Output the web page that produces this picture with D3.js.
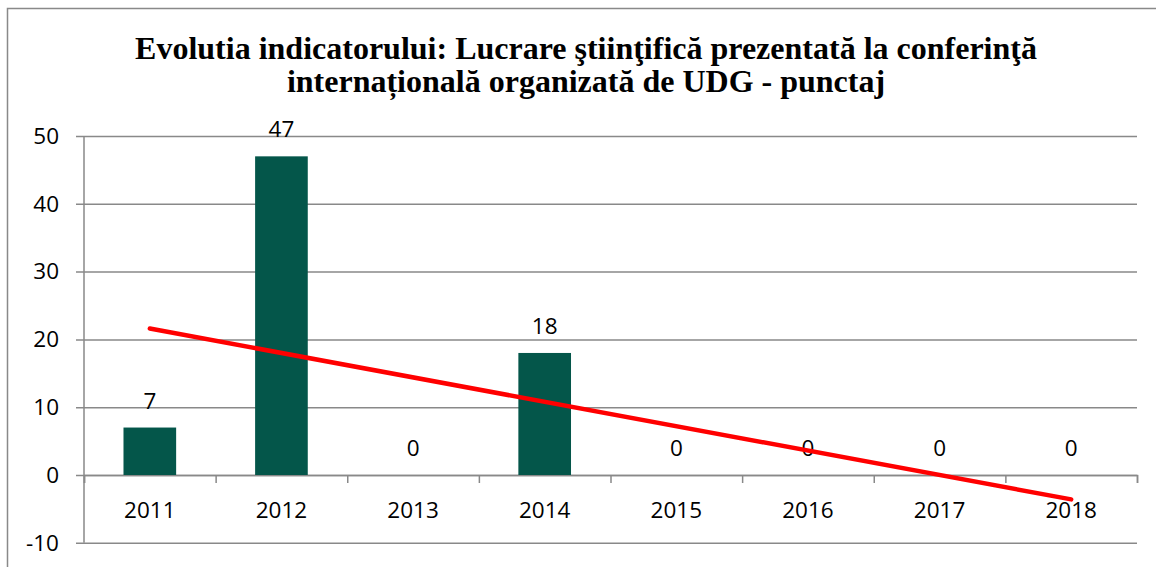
<!DOCTYPE html>
<html>
<head>
<meta charset="utf-8">
<script src="https://cdn.jsdelivr.net/npm/d3@7"></script>
<style>
  body { margin: 0; background: #fff; }
  svg { display: block; }
</style>
</head>
<body>
<script>
// chart data
let years = ["2011", "2012", "2013", "2014", "2015", "2016", "2017", "2018"]
let values = [7, 47, 0, 18, 0, 0, 0, 0]
let yTicks = [-10, 0, 10, 20, 30, 40, 50]
// linear trend line, ends
let trendYears = ["2011", "2018"]
let trendValues = [21.6, -3.6]
let titleLines = [
  "Evolutia indicatorului: Lucrare ştiinţifică prezentată la conferinţă",
  "internațională organizată de UDG - punctaj"
]

let width = 1156, height = 567
let plotLeft = 84, plotRight = 1137, plotTop = 136, plotBottom = 542.8

let svg = d3.select("body")
            .append("svg")
            .attr("width", width)
            .attr("height", height)

// outer chart frame
svg.append("rect")
   .attr("x", 7.5).attr("y", 8.5)
   .attr("width", 1200).attr("height", 600)
   .attr("fill", "none")
   .attr("stroke", "#898989")
   .attr("stroke-width", 1.5)

// title
svg.append("g")
   .selectAll("text")
   .data(titleLines)
   .enter()
   .append("text")
   .attr("x", 586)
   .attr("y", (d, i) => 59 + i * 33)
   .attr("text-anchor", "middle")
   .style("font-family", "'Liberation Serif', 'Times New Roman', serif")
   .style("font-weight", "bold")
   .style("font-size", "32px")
   .text(d => d)

let x = d3.scaleBand()
          .domain(years)
          .range([plotLeft, plotRight])
          .paddingInner(0.6)
          .paddingOuter(0.3)

let y = d3.scaleLinear()
          .domain([-10, 50])
          .range([plotBottom, plotTop])

let font = "'Open Sans', 'Liberation Sans', sans-serif"
let fontSize = "22.5px"
let grey = "#898989"

// gridlines + y ticks
let yAxis = d3.axisLeft(y)
              .tickValues(yTicks)
              .tickSize(-(plotRight - plotLeft + 8))
              .tickFormat("")
let yg = svg.append("g")
            .attr("transform", `translate(${plotLeft - 8},0)`)
            .call(yAxis)
yg.select(".domain").remove()
yg.selectAll(".tick line").attr("stroke", grey).attr("stroke-width", 1.5)

// y labels
svg.append("g")
   .selectAll("text")
   .data(yTicks)
   .enter()
   .append("text")
   .attr("x", 59)
   .attr("y", d => y(d))
   .attr("dy", "0.35em")
   .attr("text-anchor", "end")
   .style("font-family", font)
   .style("font-size", fontSize)
   .text(d => d)

// vertical axis line
svg.append("line")
   .attr("x1", plotLeft).attr("x2", plotLeft)
   .attr("y1", plotTop).attr("y2", plotBottom)
   .attr("stroke", grey).attr("stroke-width", 1.5)

// category axis at zero, ticks between categories
let bounds = d3.scaleLinear().domain([0, years.length]).range([plotLeft, plotRight])
let xg = svg.append("g")
            .attr("transform", `translate(0,${y(0)})`)
            .call(d3.axisBottom(bounds)
                    .tickValues(d3.range(years.length + 1))
                    .tickSize(8)
                    .tickFormat(""))
xg.select(".domain").attr("stroke", grey).attr("stroke-width", 1.5)
xg.selectAll(".tick line").attr("stroke", grey).attr("stroke-width", 1.5)

// bars
svg.append("g")
   .selectAll("rect")
   .data(values)
   .enter()
   .append("rect")
   .attr("x", (d, i) => x(years[i]))
   .attr("y", d => y(d))
   .attr("width", x.bandwidth())
   .attr("height", d => y(0) - y(d))
   .attr("fill", "#04564a")

// category labels
svg.append("g")
   .selectAll("text")
   .data(years)
   .enter()
   .append("text")
   .attr("x", d => x(d) + x.bandwidth() / 2)
   .attr("y", 518)
   .attr("text-anchor", "middle")
   .style("font-family", font)
   .style("font-size", fontSize)
   .text(d => d)

// data labels
svg.append("g")
   .selectAll("text")
   .data(values)
   .enter()
   .append("text")
   .attr("x", (d, i) => x(years[i]) + x.bandwidth() / 2)
   .attr("y", d => y(d) - 19)
   .attr("text-anchor", "middle")
   .style("font-family", font)
   .style("font-size", fontSize)
   .text(d => d)

// trend line
let line = d3.line()
             .x((d, i) => x(trendYears[i]) + x.bandwidth() / 2)
             .y(d => y(d))
svg.append("path")
   .datum(trendValues)
   .attr("d", line)
   .attr("fill", "none")
   .attr("stroke", "#ff0000")
   .attr("stroke-width", 4.5)
   .attr("stroke-linecap", "round")
</script>
</body>
</html>
